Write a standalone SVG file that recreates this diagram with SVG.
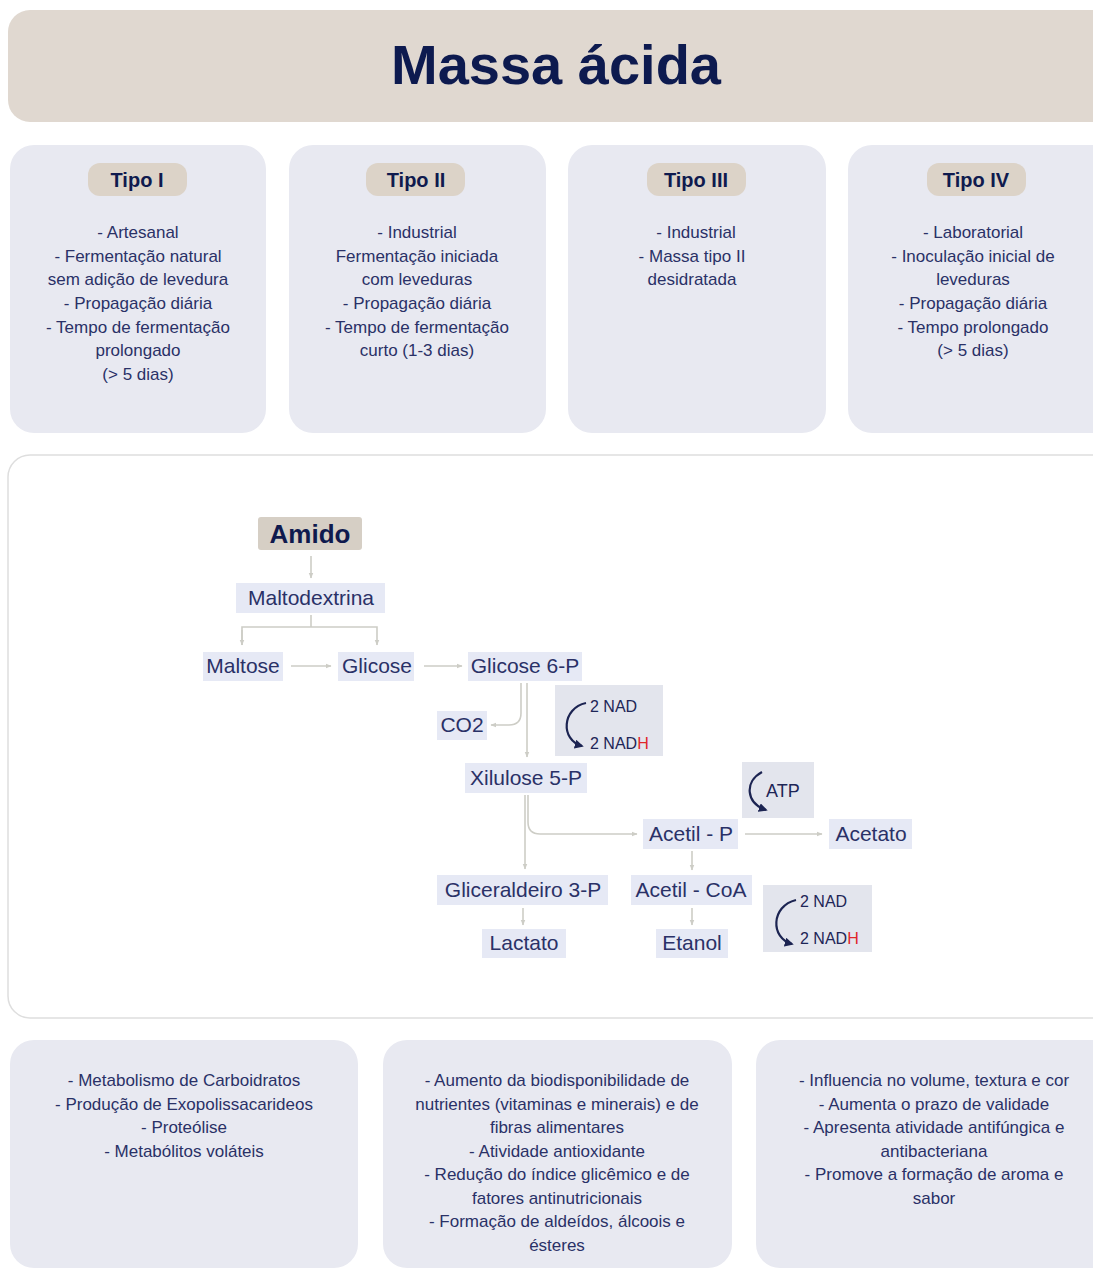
<svg xmlns="http://www.w3.org/2000/svg" width="1093" height="1271" viewBox="0 0 1093 1271">
<style>
.card{fill:#e8e9f1}
.pill{fill:#dcd3c8}
.t{font-family:"Liberation Sans",Arial,sans-serif;fill:#2a3167;text-anchor:middle;font-size:17px}
.th{font-family:"Liberation Sans",Arial,sans-serif;fill:#0f1a4e;text-anchor:middle;font-weight:bold;font-size:20px}
.nb{fill:#e6e9f5}
.nl{font-family:"Liberation Sans",Arial,sans-serif;fill:#2a3167;text-anchor:middle;font-size:21px}
.cf{fill:#e3e5ed}
.ct{font-family:"Liberation Sans",Arial,sans-serif;fill:#1e2657;font-size:16px}
.conn{fill:none;stroke:#cdcdc6;stroke-width:1.6}
.arc{fill:none;stroke:#1c2452;stroke-width:2.2}
</style>
<defs>
<marker id="ah" viewBox="0 0 10 10" refX="9" refY="5" markerWidth="6" markerHeight="6" orient="auto" markerUnits="userSpaceOnUse">
<path d="M0,1 L10,5 L0,9 z" fill="#cdcdc6"/>
</marker>
<marker id="ahd" viewBox="0 0 10 10" refX="8" refY="5" markerWidth="9" markerHeight="9" orient="auto" markerUnits="userSpaceOnUse">
<path d="M0,0 L10,5 L0,10 z" fill="#1c2452"/>
</marker>
</defs>
<rect width="1093" height="1271" fill="#ffffff"/>

<g id="title">
<rect x="8" y="10" width="1110" height="112" rx="22" fill="#e0d8d0"/>
<text x="556" y="84" font-family="Liberation Sans,Arial,sans-serif" font-weight="bold" font-size="56" fill="#0d1a4f" text-anchor="middle">Massa ácida</text>
</g>

<g id="tipo1">
<rect class="card" x="10" y="145" width="256" height="288" rx="24"/>
<rect class="pill" x="88" y="163" width="99" height="33" rx="12"/>
<text class="th" x="137" y="187">Tipo I</text>
<text class="t" x="138" y="238">- Artesanal</text>
<text class="t" x="138" y="262">- Fermentação natural</text>
<text class="t" x="138" y="285">sem adição de levedura</text>
<text class="t" x="138" y="309">- Propagação diária</text>
<text class="t" x="138" y="333">- Tempo de fermentação</text>
<text class="t" x="138" y="356">prolongado</text>
<text class="t" x="138" y="380">(&gt; 5 dias)</text>
</g>

<g id="tipo2">
<rect class="card" x="289" y="145" width="257" height="288" rx="24"/>
<rect class="pill" x="366" y="163" width="99" height="33" rx="12"/>
<text class="th" x="416" y="187">Tipo II</text>
<text class="t" x="417" y="238">- Industrial</text>
<text class="t" x="417" y="262">Fermentação iniciada</text>
<text class="t" x="417" y="285">com leveduras</text>
<text class="t" x="417" y="309">- Propagação diária</text>
<text class="t" x="417" y="333">- Tempo de fermentação</text>
<text class="t" x="417" y="356">curto (1-3 dias)</text>
</g>

<g id="tipo3">
<rect class="card" x="568" y="145" width="258" height="288" rx="24"/>
<rect class="pill" x="647" y="163" width="99" height="33" rx="12"/>
<text class="th" x="696" y="187">Tipo III</text>
<text class="t" x="696" y="238">- Industrial</text>
<text class="t" x="692" y="262">- Massa tipo II</text>
<text class="t" x="692" y="285">desidratada</text>
</g>

<g id="tipo4">
<rect class="card" x="848" y="145" width="270" height="288" rx="24"/>
<rect class="pill" x="927" y="163" width="99" height="33" rx="12"/>
<text class="th" x="976" y="187">Tipo IV</text>
<text class="t" x="973" y="238">- Laboratorial</text>
<text class="t" x="973" y="262">- Inoculação inicial de</text>
<text class="t" x="973" y="285">leveduras</text>
<text class="t" x="973" y="309">- Propagação diária</text>
<text class="t" x="973" y="333">- Tempo prolongado</text>
<text class="t" x="973" y="356">(&gt; 5 dias)</text>
</g>

<g id="pathway-frame">
<rect x="8" y="455" width="1110" height="563" rx="22" fill="#ffffff" stroke="#dedede" stroke-width="1.5"/>
</g>

<g id="connectors">
<line class="conn" x1="311" y1="556" x2="311" y2="578" marker-end="url(#ah)"/>
<polyline class="conn" points="311,615 311,627"/>
<polyline class="conn" points="242,645 242,627 377,627 377,645" marker-end="url(#ah)"/>
<line class="conn" x1="242" y1="630" x2="242" y2="645" marker-end="url(#ah)"/>
<line class="conn" x1="291" y1="666" x2="331" y2="666" marker-end="url(#ah)"/>
<line class="conn" x1="424" y1="666" x2="462" y2="666" marker-end="url(#ah)"/>
<line class="conn" x1="527" y1="683" x2="527" y2="757" marker-end="url(#ah)"/>
<path class="conn" d="M521,683 L521,713 Q521,725 509,725 L491,725" marker-end="url(#ah)"/>
<line class="conn" x1="525" y1="795" x2="525" y2="869" marker-end="url(#ah)"/>
<path class="conn" d="M528,795 L528,822 Q528,834 540,834 L637,834" marker-end="url(#ah)"/>
<line class="conn" x1="745" y1="834" x2="822" y2="834" marker-end="url(#ah)"/>
<line class="conn" x1="692" y1="851" x2="692" y2="870" marker-end="url(#ah)"/>
<line class="conn" x1="523" y1="908" x2="523" y2="925" marker-end="url(#ah)"/>
<line class="conn" x1="692" y1="908" x2="692" y2="925" marker-end="url(#ah)"/>
</g>

<g id="amido">
<rect x="258" y="517" width="104" height="33" rx="3" fill="#d6cfc5"/>
<text x="310" y="543" font-family="Liberation Sans,Arial,sans-serif" font-weight="bold" font-size="26" fill="#0f1a4e" text-anchor="middle">Amido</text>
</g>
<g id="maltodextrina">
<rect class="nb" x="236" y="583" width="149" height="30"/>
<text class="nl" x="311" y="605">Maltodextrina</text>
</g>
<g id="maltose">
<rect class="nb" x="203" y="652" width="80" height="29"/>
<text class="nl" x="243" y="673">Maltose</text>
</g>
<g id="glicose">
<rect class="nb" x="338" y="652" width="76" height="29"/>
<text class="nl" x="377" y="673">Glicose</text>
</g>
<g id="glicose6p">
<rect class="nb" x="468" y="652" width="114" height="29"/>
<text class="nl" x="525" y="673">Glicose 6-P</text>
</g>
<g id="co2">
<rect class="nb" x="437" y="711" width="50" height="29"/>
<text class="nl" x="462" y="732">CO2</text>
</g>
<g id="nad1">
<rect class="cf" x="555" y="685" width="108" height="71"/>
<path class="arc" d="M586,703 C562,708 560,740 582,746" marker-end="url(#ahd)"/>
<text class="ct" x="590" y="712">2 NAD</text>
<text class="ct" x="590" y="749">2 NAD<tspan fill="#e0262b">H</tspan></text>
</g>
<g id="xilulose">
<rect class="nb" x="465" y="763" width="122" height="30"/>
<text class="nl" x="526" y="785">Xilulose 5-P</text>
</g>
<g id="atp">
<rect class="cf" x="742" y="762" width="72" height="56"/>
<path class="arc" d="M762,772 C744,782 746,803 766,810" marker-end="url(#ahd)"/>
<text x="766" y="797" font-family="Liberation Sans,Arial,sans-serif" font-size="18" fill="#1e2657">ATP</text>
</g>
<g id="acetilp">
<rect class="nb" x="643" y="819" width="95" height="30"/>
<text class="nl" x="691" y="841">Acetil - P</text>
</g>
<g id="acetato">
<rect class="nb" x="829" y="819" width="83" height="30"/>
<text class="nl" x="871" y="841">Acetato</text>
</g>
<g id="gliceraldeiro">
<rect class="nb" x="437" y="875" width="171" height="30"/>
<text class="nl" x="523" y="897">Gliceraldeiro 3-P</text>
</g>
<g id="acetilcoa">
<rect class="nb" x="631" y="875" width="121" height="30"/>
<text class="nl" x="691" y="897">Acetil - CoA</text>
</g>
<g id="nad2">
<rect class="cf" x="763" y="885" width="109" height="67"/>
<path class="arc" d="M796,900 C771,906 770,938 792,944" marker-end="url(#ahd)"/>
<text class="ct" x="800" y="907">2 NAD</text>
<text class="ct" x="800" y="944">2 NAD<tspan fill="#e0262b">H</tspan></text>
</g>
<g id="lactato">
<rect class="nb" x="482" y="929" width="84" height="29"/>
<text class="nl" x="524" y="950">Lactato</text>
</g>
<g id="etanol">
<rect class="nb" x="656" y="929" width="72" height="29"/>
<text class="nl" x="692" y="950">Etanol</text>
</g>

<g id="info1">
<rect class="card" x="10" y="1040" width="348" height="228" rx="24"/>
<text class="t" x="184" y="1086">- Metabolismo de Carboidratos</text>
<text class="t" x="184" y="1110">- Produção de Exopolissacarideos</text>
<text class="t" x="184" y="1133">- Proteólise</text>
<text class="t" x="184" y="1157">- Metabólitos voláteis</text>
</g>
<g id="info2">
<rect class="card" x="383" y="1040" width="349" height="228" rx="24"/>
<text class="t" x="557" y="1086">- Aumento da biodisponibilidade de</text>
<text class="t" x="557" y="1110">nutrientes (vitaminas e minerais) e de</text>
<text class="t" x="557" y="1133">fibras alimentares</text>
<text class="t" x="557" y="1157">-  Atividade antioxidante</text>
<text class="t" x="557" y="1180">- Redução do índice glicêmico e de</text>
<text class="t" x="557" y="1204">fatores antinutricionais</text>
<text class="t" x="557" y="1227">-  Formação de aldeídos, álcoois e</text>
<text class="t" x="557" y="1251">ésteres</text>
</g>
<g id="info3">
<rect class="card" x="756" y="1040" width="360" height="228" rx="24"/>
<text class="t" x="934" y="1086">- Influencia no volume, textura e cor</text>
<text class="t" x="934" y="1110">- Aumenta o prazo de validade</text>
<text class="t" x="934" y="1133">- Apresenta atividade antifúngica e</text>
<text class="t" x="934" y="1157">antibacteriana</text>
<text class="t" x="934" y="1180">- Promove a formação de aroma e</text>
<text class="t" x="934" y="1204">sabor</text>
</g>
</svg>
